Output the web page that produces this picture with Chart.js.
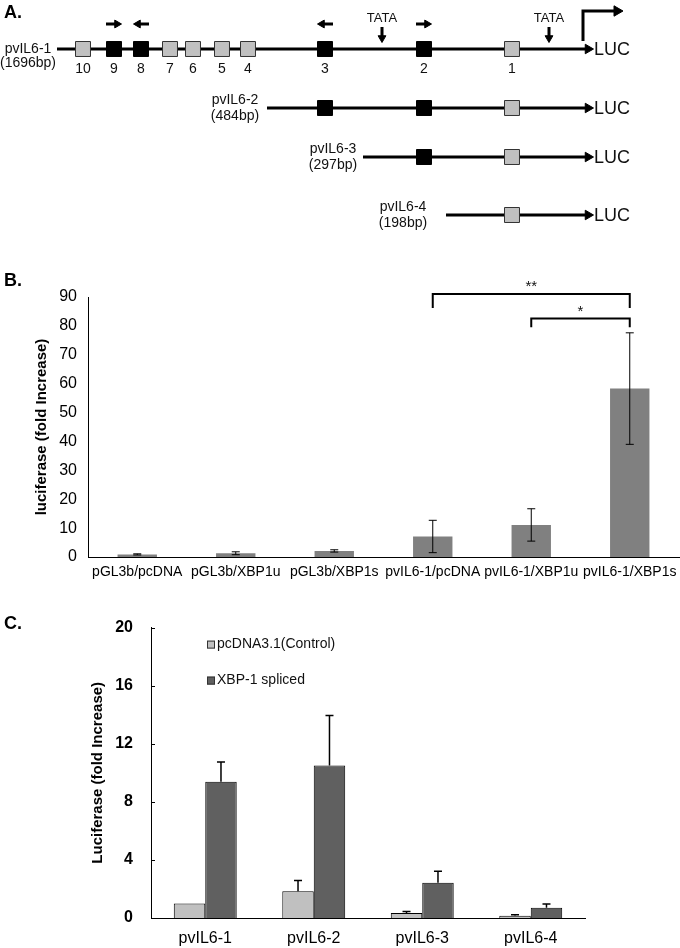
<!DOCTYPE html>
<html>
<head>
<meta charset="utf-8">
<script src="https://cdn.jsdelivr.net/npm/chart.js@4.4.1/dist/chart.umd.min.js"></script>
<style>
  body { margin: 0; background: #fff; font-family: "Liberation Sans", Arial, sans-serif; }
  #page { position: relative; width: 680px; height: 948px; overflow: hidden; }
  .panel { position: absolute; left: 0; width: 680px; }
  .tag { position: absolute; left: 4px; font-weight: bold; font-size: 18px; z-index: 2; }
</style>
</head>
<body>
<div id="page">
  <div class="tag" style="top:2px">A.</div>
  <div class="tag" style="top:270px">B.</div>
  <div class="tag" style="top:613px">C.</div>
  <div class="panel" style="top:0;height:240px"><canvas id="chartA"></canvas></div>
  <div class="panel" style="top:270px;height:314px"><canvas id="chartB"></canvas></div>
  <div class="panel" style="top:600px;height:348px"><canvas id="chartC"></canvas></div>
</div>
<script>
const FONT = '"Liberation Sans", Arial, sans-serif';

// ---- Panel A: promoter constructs (diagram units) ----
const siteLabels = ['10', '9', '8', '7', '6', '5', '4', '3', '2', '1'];
const sitePos = [83, 114, 141, 170, 193, 222, 248, 325, 424, 512];
const siteDark = [false, true, true, false, false, false, false, true, true, false];
const constructNames = ['pvIL6-1', 'pvIL6-2', 'pvIL6-3', 'pvIL6-4'];
const constructSizes = ['(1696bp)', '(484bp)', '(297bp)', '(198bp)'];
const constructStart = [57, 267, 363, 446];
const constructRow = [49, 108, 157, 215];
const lucEnd = 593;
const primerPos = [114, 141, 325, 424];
const primerDir = [1, -1, -1, 1];
const tataPos = [382, 549];

// ---- Panel B ----
const groupsB = ['pGL3b/pcDNA', 'pGL3b/XBP1u', 'pGL3b/XBP1s', 'pvIL6-1/pcDNA', 'pvIL6-1/XBP1u', 'pvIL6-1/XBP1s'];
const foldB = [0.9, 1.3, 2.1, 7.1, 11.1, 58.3];
const errB = [0.2, 0.5, 0.4, 5.6, 5.6, 19.3];
const sigFrom = [3, 4];
const sigTo = [5, 5];
const sigTop = [91, 82.6];
const sigFoot = [86.2, 79.5];
const sigMark = ['**', '*'];

// ---- Panel C ----
const constructsC = ['pvIL6-1', 'pvIL6-2', 'pvIL6-3', 'pvIL6-4'];
const controlC = [1.0, 1.84, 0.34, 0.15];
const controlErrC = [0, 0.75, 0.1, 0.07];
const splicedC = [9.39, 10.5, 2.43, 0.70];
const splicedErrC = [1.35, 3.45, 0.79, 0.27];

// build diagram datasets
const greyBoxes = [];
const darkBoxes = [];
constructRow.forEach((y, r) => {
  sitePos.forEach((x, i) => {
    if (x > constructStart[r]) (siteDark[i] ? darkBoxes : greyBoxes).push({ x: x, y: y });
  });
});

const segs = [];
const heads = [];
const headRot = [];
const headSize = [];
constructRow.forEach((y, r) => {
  segs.push([{ x: constructStart[r], y: y }, { x: lucEnd - 5, y: y }]);
  heads.push({ x: lucEnd - 5, y: y }); headRot.push(90); headSize.push(5.5);
});
primerPos.forEach((x, i) => {
  const d = primerDir[i];
  segs.push([{ x: x - 8 * d, y: 24 }, { x: x + 2 * d, y: 24 }]);
  heads.push({ x: x + 3 * d, y: 24 }); headRot.push(d > 0 ? 90 : 270); headSize.push(4.5);
});
tataPos.forEach(x => {
  segs.push([{ x: x, y: 27 }, { x: x, y: 37 }]);
  heads.push({ x: x, y: 38 }); headRot.push(180); headSize.push(4.5);
});
// transcription start
segs.push([{ x: 583, y: 41 }, { x: 583, y: 11 }, { x: 615, y: 11 }]);
heads.push({ x: 617, y: 11 }); headRot.push(90); headSize.push(6);

const lineSets = segs.map(s => ({
  data: s, showLine: true, borderColor: '#000', borderWidth: 3,
  pointRadius: 0, borderCapStyle: 'butt', order: 3
}));

const diagramText = {
  id: 'diagramText',
  afterDatasetsDraw(chart) {
    const { ctx, scales: { x, y } } = chart;
    ctx.save();
    ctx.fillStyle = '#111';
    ctx.textBaseline = 'middle';
    ctx.textAlign = 'center';
    ctx.font = '14px ' + FONT;
    const nameX = [28, 235, 333, 403];
    constructRow.forEach((row, r) => {
      const up = r === 0 ? 0 : 8;
      const down = r === 0 ? 14 : 8;
      ctx.fillText(constructNames[r], x.getPixelForValue(nameX[r]), y.getPixelForValue(row - up));
      ctx.fillText(constructSizes[r], x.getPixelForValue(nameX[r]), y.getPixelForValue(row + down));
      ctx.save();
      ctx.textAlign = 'left';
      ctx.font = '18px ' + FONT;
      ctx.fillText('LUC', x.getPixelForValue(lucEnd + 1), y.getPixelForValue(row + 1));
      ctx.restore();
    });
    sitePos.forEach((p, i) => {
      ctx.fillText(siteLabels[i], x.getPixelForValue(p), y.getPixelForValue(constructRow[0] + 20));
    });
    ctx.font = '13px ' + FONT;
    tataPos.forEach(p => ctx.fillText('TATA', x.getPixelForValue(p), y.getPixelForValue(18)));
    ctx.restore();
  }
};

new Chart(document.getElementById('chartA'), {
  type: 'scatter',
  data: {
    datasets: [
      { data: greyBoxes, pointStyle: 'rect', pointRadius: 10.6, backgroundColor: '#c0c0c0', borderColor: '#333', borderWidth: 1, order: 1 },
      { data: darkBoxes, pointStyle: 'rect', pointRadius: 10.6, backgroundColor: '#000', borderColor: '#000', borderWidth: 1, order: 1 },
      { data: heads, pointStyle: 'triangle', pointRadius: headSize, rotation: headRot, backgroundColor: '#000', borderColor: '#000', borderWidth: 1, order: 2 },
      ...lineSets
    ]
  },
  options: {
    responsive: true,
    maintainAspectRatio: false,
    animation: false,
    layout: { padding: 0, autoPadding: false },
    scales: {
      x: { display: false, min: 0, max: 680 },
      y: { display: false, min: 0, max: 240, reverse: true }
    },
    plugins: { legend: { display: false }, tooltip: { enabled: false } }
  },
  plugins: [diagramText]
});

// ---- error bars & brackets ----
const errorBars = {
  id: 'errorBars',
  afterDatasetsDraw(chart, args, opts) {
    const { ctx, scales: { y } } = chart;
    ctx.save();
    ctx.strokeStyle = '#000';
    ctx.lineWidth = opts.width || 1;
    chart.data.datasets.forEach((ds, di) => {
      const meta = chart.getDatasetMeta(di);
      meta.data.forEach((bar, i) => {
        const e = ds.errors[i];
        if (!e) return;
        const v = ds.data[i];
        const top = y.getPixelForValue(v + e);
        const bot = opts.upOnly ? bar.y : y.getPixelForValue(v - e);
        const cx = bar.x;
        ctx.beginPath();
        ctx.moveTo(cx, top); ctx.lineTo(cx, bot);
        ctx.moveTo(cx - opts.cap, top); ctx.lineTo(cx + opts.cap, top);
        if (!opts.upOnly) { ctx.moveTo(cx - opts.cap, bot); ctx.lineTo(cx + opts.cap, bot); }
        ctx.stroke();
      });
    });
    ctx.restore();
  }
};

const brackets = {
  id: 'brackets',
  afterDatasetsDraw(chart) {
    const { ctx, scales: { x, y } } = chart;
    ctx.save();
    ctx.strokeStyle = '#000';
    ctx.lineWidth = 2;
    ctx.fillStyle = '#111';
    ctx.font = '15px ' + FONT;
    ctx.textAlign = 'center';
    ctx.textBaseline = 'middle';
    sigMark.forEach((m, i) => {
      const x1 = x.getPixelForValue(sigFrom[i]);
      const x2 = x.getPixelForValue(sigTo[i]);
      const yt = y.getPixelForValue(sigTop[i]);
      const yf = y.getPixelForValue(sigFoot[i]);
      ctx.beginPath();
      ctx.moveTo(x1, yf); ctx.lineTo(x1, yt); ctx.lineTo(x2, yt); ctx.lineTo(x2, yf);
      ctx.stroke();
      ctx.fillText(m, (x1 + x2) / 2, yt - 7);
    });
    ctx.restore();
  }
};

// short inward ticks on the value axis (panel C)
const innerTicks = {
  id: 'innerTicks',
  afterDraw(chart) {
    const { ctx, scales: { y } } = chart;
    ctx.save();
    ctx.strokeStyle = '#000';
    ctx.lineWidth = 1;
    ctx.beginPath();
    y.ticks.forEach(t => {
      const py = Math.round(y.getPixelForValue(t.value)) + 0.5;
      ctx.moveTo(y.right, py); ctx.lineTo(y.right + 4, py);
    });
    ctx.stroke();
    ctx.restore();
  }
};

new Chart(document.getElementById('chartB'), {
  type: 'bar',
  data: {
    labels: groupsB,
    datasets: [{ data: foldB, errors: errB, backgroundColor: '#808080', categoryPercentage: 0.4, barPercentage: 1 }]
  },
  options: {
    responsive: true,
    maintainAspectRatio: false,
    animation: false,
    layout: { padding: { top: 27, right: 1, left: 0, bottom: 0 } },
    scales: {
      x: {
        grid: { display: false, drawTicks: false },
        border: { display: true, color: '#000', width: 1 },
        ticks: { color: '#000', font: { family: FONT, size: 14 }, padding: 7, maxRotation: 0, autoSkip: false },
        afterFit: s => { s.height = 27; s.paddingLeft = 0; s.paddingRight = 0; }
      },
      y: {
        min: 0, max: 90,
        grid: { display: false, drawTicks: false },
        border: { display: true, color: '#000', width: 1 },
        ticks: { stepSize: 10, color: '#000', font: { family: FONT, size: 16 }, padding: 11 },
        title: { display: true, text: 'luciferase (fold Increase)', color: '#000', font: { family: FONT, size: 15, weight: 'bold' }, padding: { top: 33, bottom: 0 } },
        afterFit: s => { s.width = 88; }
      }
    },
    plugins: { legend: { display: false }, tooltip: { enabled: false }, errorBars: { cap: 4, width: 1 } }
  },
  plugins: [errorBars, brackets]
});

const legendC = {
  id: 'legendC',
  afterDatasetsDraw(chart) {
    const { ctx, chartArea } = chart;
    ctx.save();
    ctx.font = '14px ' + FONT;
    ctx.textBaseline = 'middle';
    ctx.textAlign = 'left';
    chart.data.datasets.forEach((ds, i) => {
      const lx = chartArea.left + 56;
      const ly = chartArea.top + 17 + i * 36;
      ctx.fillStyle = ds.backgroundColor;
      ctx.strokeStyle = '#333';
      ctx.lineWidth = 1;
      ctx.fillRect(lx, ly - 4, 8, 8);
      ctx.strokeRect(lx + 0.5, ly - 3.5, 7, 7);
      ctx.fillStyle = '#111';
      ctx.fillText(ds.label, lx + 10, ly);
    });
    ctx.restore();
  }
};

new Chart(document.getElementById('chartC'), {
  type: 'bar',
  data: {
    labels: constructsC,
    datasets: [
      { label: 'pcDNA3.1(Control)', data: controlC, errors: controlErrC, backgroundColor: '#c0c0c0', borderColor: '#000', borderWidth: 1, categoryPercentage: 0.58, barPercentage: 1 },
      { label: 'XBP-1 spliced', data: splicedC, errors: splicedErrC, backgroundColor: '#606060', borderColor: '#000', borderWidth: 1, categoryPercentage: 0.58, barPercentage: 1 }
    ]
  },
  options: {
    responsive: true,
    maintainAspectRatio: false,
    animation: false,
    layout: { padding: { top: 22, right: 95, left: 0, bottom: 0 } },
    scales: {
      x: {
        grid: { display: false, drawTicks: false },
        border: { display: true, color: '#000', width: 1 },
        ticks: { color: '#000', font: { family: FONT, size: 16 }, padding: 11, maxRotation: 0 },
        afterFit: s => { s.height = 30; }
      },
      y: {
        min: 0, max: 20,
        grid: { display: false, drawTicks: false },
        border: { display: true, color: '#000', width: 1 },
        ticks: { stepSize: 4, color: '#000', font: { family: FONT, size: 16, weight: 'bold' }, padding: 18 },
        title: { display: true, text: 'Luciferase (fold Increase)', color: '#000', font: { family: FONT, size: 15, weight: 'bold' }, padding: { top: 89, bottom: 0 } },
        afterFit: s => { s.width = 151; }
      }
    },
    plugins: { legend: { display: false }, tooltip: { enabled: false }, errorBars: { cap: 4, width: 1.5, upOnly: true } }
  },
  plugins: [errorBars, legendC, innerTicks]
});
</script>
</body>
</html>
